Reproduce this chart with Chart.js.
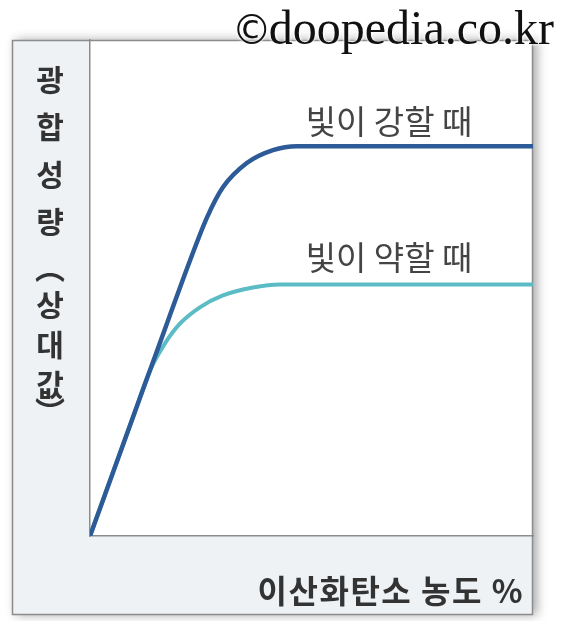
<!DOCTYPE html>
<html>
<head>
<meta charset="utf-8">
<script src="https://cdn.jsdelivr.net/npm/chart.js@4/dist/chart.umd.min.js"></script>
<style>
  html, body { margin: 0; padding: 0; background: #fff; }
  #wrap { position: relative; width: 561px; height: 621px; overflow: hidden; }
  #chart { position: absolute; left: 0; top: 0; }
  #mark {
    position: absolute; right: 7px; top: 4px;
    font-family: "Liberation Serif", "DejaVu Serif", serif;
    font-size: 48px; line-height: 48px; color: #111; white-space: nowrap;
    text-shadow: 0 0 3px #fff, 0 0 3px #fff;
  }
  #mark span { font-family: "DejaVu Sans", sans-serif; font-size: 40px; margin-right: -3px; }
</style>
</head>
<body>
<div id="wrap">
  <canvas id="chart" width="561" height="621"></canvas>
  <div id="mark"><span>©</span>doopedia.co.kr</div>
</div>
<script>
// CO2 concentration (relative, 0-100) vs photosynthesis rate (relative, 0-100)
const strongX = [0, 10, 13.5, 18, 22.6, 26.4, 30.0, 35.4, 41.3, 46.7, 54.2, 100];
const strongY = [0, 24.7, 33.3, 44.4, 55.6, 64.2, 70.3, 75.2, 77.8, 78.6, 78.6, 78.6];
const weakX = [0, 10, 13.5, 16.9, 20.3, 24.8, 30.0, 36.8, 42.9, 51.9, 100];
const weakY = [0, 24.7, 33.3, 38.8, 42.8, 46.1, 48.5, 50.1, 50.7, 50.7, 50.7];

const seriesNames = ['빛이 강할 때', '빛이 약할 때'];
const yTitleChars = ['광', '합', '성', '량', '︵', '상', '대', '값', '︶'];
const xTitle = '이산화탄소 농도 %';

const toPoints = (xs, ys) => xs.map((x, i) => ({ x: x, y: ys[i] }));

const KR = '"Noto Sans CJK KR", "Noto Sans", sans-serif';

// box, side panels and text drawn around the plot area
const framePlugin = {
  id: 'frame',
  beforeDraw(chart) {
    const { ctx, chartArea: a } = chart;
    const box = { l: 12, t: 40, r: a.right, b: 615 };
    ctx.save();
    ctx.shadowColor = 'rgba(0,0,0,0.35)';
    ctx.shadowBlur = 10;
    ctx.shadowOffsetX = 4;
    ctx.fillStyle = '#eef2f5';
    ctx.fillRect(box.l, box.t, box.r - box.l, box.b - box.t);
    ctx.restore();

    ctx.save();
    ctx.fillStyle = '#ffffff';
    ctx.fillRect(a.left, a.top, a.right - a.left, a.bottom - a.top);
    ctx.strokeStyle = '#8c8c8c';
    ctx.lineWidth = 1.5;
    ctx.strokeRect(box.l + 0.5, box.t + 0.5, box.r - box.l - 1, box.b - box.t - 1);

    // vertical y title
    ctx.fillStyle = '#333';
    ctx.font = 'bold 30px ' + KR;
    ctx.textAlign = 'center';
    ctx.textBaseline = 'middle';
    const ys = [80, 127, 175, 222, 268, 305, 345, 385, 412];
    yTitleChars.forEach((c, i) => ctx.fillText(c, 50, ys[i]));

    // x title
    ctx.textAlign = 'right';
    ctx.font = 'bold 32px ' + KR;
    ctx.letterSpacing = '1.5px';
    ctx.fillText(xTitle, 524, 591);
    ctx.restore();
  },
  afterDatasetsDraw(chart) {
    const { ctx, scales } = chart;
    ctx.save();
    ctx.fillStyle = '#444';
    ctx.font = '33px ' + KR;
    ctx.textAlign = 'center';
    ctx.textBaseline = 'middle';
    const px = scales.x.getPixelForValue(67.5);
    ctx.fillText(seriesNames[0], px, scales.y.getPixelForValue(strongY[strongY.length - 1]) - 25);
    ctx.fillText(seriesNames[1], px, scales.y.getPixelForValue(weakY[weakY.length - 1]) - 27);
    ctx.restore();
  }
};

new Chart(document.getElementById('chart'), {
  type: 'line',
  data: {
    datasets: [
      {
        label: seriesNames[0],
        data: toPoints(strongX, strongY),
        borderColor: '#2c5b98',
        borderWidth: 4.5,
        pointRadius: 0,
        cubicInterpolationMode: 'monotone',
        fill: false
      },
      {
        label: seriesNames[1],
        data: toPoints(weakX, weakY),
        borderColor: '#5cbcc6',
        borderWidth: 4,
        pointRadius: 0,
        cubicInterpolationMode: 'monotone',
        fill: false
      }
    ]
  },
  options: {
    responsive: false,
    animation: false,
    layout: { padding: { left: 82, top: 40, right: 28, bottom: 77 } },
    plugins: {
      legend: { display: false },
      tooltip: { enabled: false },
      title: { display: false }
    },
    scales: {
      x: {
        type: 'linear', min: 0, max: 100,
        ticks: { display: false },
        grid: { display: false },
        border: { display: true, color: '#8c8c8c', width: 1.5 }
      },
      y: {
        type: 'linear', min: 0, max: 100,
        ticks: { display: false },
        grid: { display: false },
        border: { display: true, color: '#8c8c8c', width: 1.5 }
      }
    }
  },
  plugins: [framePlugin]
});
</script>
</body>
</html>
